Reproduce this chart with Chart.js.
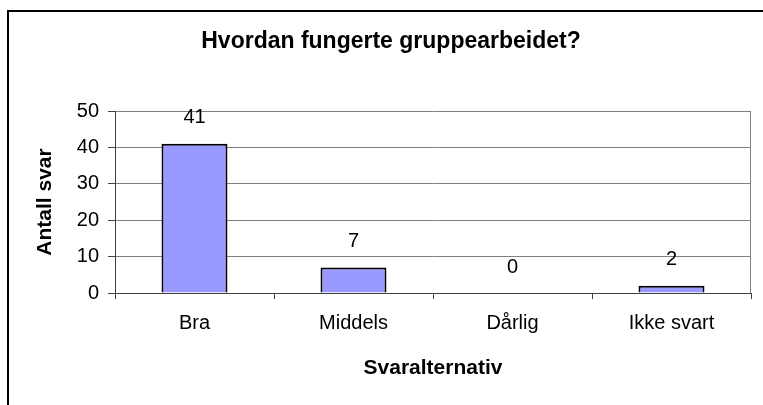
<!DOCTYPE html>
<html>
<head>
<meta charset="utf-8">
<script src="https://cdn.jsdelivr.net/npm/chart.js@4"></script>
<style>
html,body{margin:0;padding:0;background:#fff;}
#wrap{width:763px;height:405px;position:relative;}
</style>
</head>
<body>
<div id="wrap"><canvas id="c" width="763" height="405"></canvas></div>
<script>
const categories = ["Bra", "Middels", "Dårlig", "Ikke svart"];
const values = [41, 7, 0, 2];
const yTicks = [0, 10, 20, 30, 40, 50];
const chartTitle = "Hvordan fungerte gruppearbeidet?";
const xTitle = "Svaralternativ";
const yTitle = "Antall svar";

const FONT = "Arial, 'Liberation Sans', Helvetica, sans-serif";

const borderPlugin = {
  id: 'outerBorder',
  beforeDraw(chart) {
    const ctx = chart.ctx;
    ctx.save();
    ctx.fillStyle = '#fff';
    ctx.fillRect(0, 0, chart.width, chart.height);
    ctx.strokeStyle = '#000';
    ctx.lineWidth = 2;
    ctx.strokeRect(8, 11, 900, 900);
    ctx.restore();
  }
};

const valueLabels = {
  id: 'valueLabels',
  afterDatasetsDraw(chart) {
    const ctx = chart.ctx;
    const meta = chart.getDatasetMeta(0);
    ctx.save();
    ctx.font = "20px " + FONT;
    ctx.fillStyle = '#000';
    ctx.textAlign = 'center';
    ctx.textBaseline = 'alphabetic';
    meta.data.forEach((bar, i) => {
      ctx.fillText(String(values[i]), bar.x, bar.y - 20.5);
    });
    ctx.restore();
  }
};

const plotRight = {
  id: 'plotRight',
  beforeDatasetsDraw(chart) {
    const a = chart.chartArea;
    const ctx = chart.ctx;
    ctx.save();
    ctx.strokeStyle = '#808080';
    ctx.lineWidth = 1;
    ctx.beginPath();
    ctx.moveTo(a.right - 0.5, a.top);
    ctx.lineTo(a.right - 0.5, a.bottom);
    ctx.stroke();
    ctx.restore();
  }
};

new Chart(document.getElementById('c'), {
  type: 'bar',
  data: {
    labels: categories,
    datasets: [{
      data: values,
      backgroundColor: '#9999FF',
      borderColor: '#000',
      borderWidth: 2,
      barPercentage: 0.415,
      categoryPercentage: 1.0
    }]
  },
  options: {
    responsive: false,
    animation: false,
    devicePixelRatio: 1,
    layout: { padding: { left: 31, right: 12, top: 0, bottom: 0 } },
    plugins: {
      legend: { display: false },
      tooltip: { enabled: false },
      title: {
        display: true,
        text: chartTitle,
        color: '#000',
        font: { family: FONT, size: 23, weight: 'bold', lineHeight: 1.2 },
        padding: { top: 28.2, bottom: 55.2 },
        align: 'center'
      }
    },
    scales: {
      x: {
        afterFit(s) { s.height = 112; },
        grid: {
          display: true,
          drawOnChartArea: false,
          drawTicks: true,
          tickLength: 6,
          color: '#404040',
          offset: true
        },
        border: { display: true, color: '#404040', width: 1 },
        ticks: {
          color: '#000',
          font: { family: FONT, size: 20, lineHeight: 1.2 },
          padding: 12,
          maxRotation: 0
        },
        title: {
          display: true,
          text: xTitle,
          color: '#000',
          font: { family: FONT, size: 21, weight: 'bold', lineHeight: 1.2 },
          padding: { top: 0, bottom: 24.4 }
        }
      },
      y: {
        min: 0,
        max: 50,
        afterFit(s) { s.width = 84; },
        afterBuildTicks(s) { s.ticks = yTicks.map(v => ({ value: v })); },
        grid: {
          color: '#808080',
          drawTicks: true,
          tickLength: 7,
          tickColor: '#404040'
        },
        border: { display: true, color: '#404040', width: 1 },
        ticks: {
          color: '#000',
          font: { family: FONT, size: 20, lineHeight: 1.2 },
          padding: 9
        },
        title: {
          display: true,
          text: yTitle,
          color: '#000',
          font: { family: FONT, size: 21, weight: 'bold', lineHeight: 1.2 },
          padding: { top: 1.4, bottom: 0 }
        }
      }
    }
  },
  plugins: [borderPlugin, plotRight, valueLabels]
});
</script>
</body>
</html>
